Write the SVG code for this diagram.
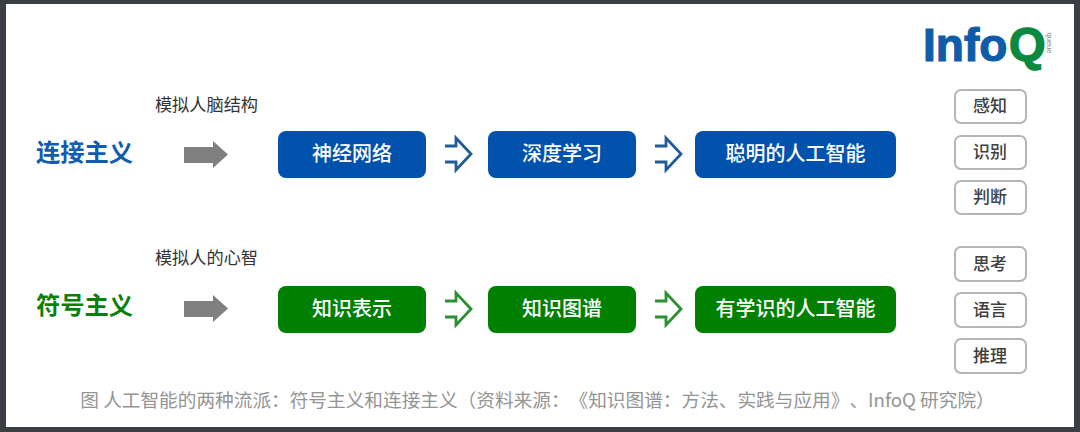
<svg xmlns="http://www.w3.org/2000/svg" width="1080" height="432" viewBox="0 0 1080 432">
<defs>
<style>
text{font-family:"Noto Sans CJK SC","Noto Sans",sans-serif;text-anchor:middle}
.head{font-size:24.300px;font-weight:700}
.sub{font-size:17.200px;fill:#333}
.btxt{font-size:20px;fill:#fff;font-weight:500}
.side{fill:#fff;stroke:#b5b5b5;stroke-width:2}
.stxt{font-size:17px;fill:#404040;font-weight:500}
.gray{fill:#808080}
.hollow{fill:none;stroke-width:2.800;stroke-linejoin:miter}
.logo{text-anchor:start;font-family:"Liberation Sans",sans-serif;font-weight:700}
</style>
<path id="solid" d="M184 147H213V141L228 154.500L213 168V163H184Z"/>
<path id="open" d="M445 146H456V138L471 154L456 170V162H445"/>
</defs>
<rect width="1080" height="432" fill="#3b3e42"/>
<rect x="6" y="4" width="1068" height="423" fill="#fff"/>
<g id="logo">
<text class="logo" x="923" y="61" font-size="46" fill="#0f5ca8" stroke="#0f5ca8" stroke-width="1.200">Info</text>
<text class="logo" x="1009" y="60" font-size="47" fill="#0a8a40" stroke="#0a8a40" stroke-width="1.500">Q</text>
<text transform="translate(1047 43) rotate(90)" style="font-family:'Liberation Sans',sans-serif;font-size:7.500px" fill="#888">queue</text>
</g>
<g id="connectors">
<use href="#solid" class="gray"/>
<use href="#solid" class="gray" y="154"/>
<use href="#open" class="hollow" stroke="#1f5c99"/>
<use href="#open" class="hollow" stroke="#1f5c99" x="210"/>
<use href="#open" class="hollow" stroke="#2a9030" y="155"/>
<use href="#open" class="hollow" stroke="#2a9030" x="210" y="155"/>
</g>
<g id="head-connect"><text class="head" x="84.500" y="161" fill="#0f5cb0">连接主义</text></g>
<g id="head-symbol"><text class="head" x="84.500" y="314" fill="#0a7f0a">符号主义</text></g>
<g id="sub-brain"><text class="sub" x="206.500" y="111">模拟人脑结构</text></g>
<g id="sub-mind"><text class="sub" x="206.500" y="264">模拟人的心智</text></g>
<g id="n1"><rect x="278" y="131" width="148" height="47" rx="8" fill="#0052ac"/><text class="btxt" x="352" y="161">神经网络</text></g>
<g id="n2"><rect x="488" y="131" width="148" height="47" rx="8" fill="#0052ac"/><text class="btxt" x="562" y="161">深度学习</text></g>
<g id="n3"><rect x="695" y="131" width="201" height="47" rx="8" fill="#0052ac"/><text class="btxt" x="795.500" y="161">聪明的人工智能</text></g>
<g id="n4"><rect x="278" y="286" width="148" height="47" rx="8" fill="#008000"/><text class="btxt" x="352" y="316">知识表示</text></g>
<g id="n5"><rect x="488" y="286" width="148" height="47" rx="8" fill="#008000"/><text class="btxt" x="562" y="316">知识图谱</text></g>
<g id="n6"><rect x="695" y="286" width="201" height="47" rx="8" fill="#008000"/><text class="btxt" x="795.500" y="316">有学识的人工智能</text></g>
<g id="s1"><rect class="side" x="955" y="90" width="71" height="33" rx="6"/><text class="stxt" x="990" y="112">感知</text></g>
<g id="s2"><rect class="side" x="955" y="136" width="71" height="33" rx="6"/><text class="stxt" x="990" y="158">识别</text></g>
<g id="s3"><rect class="side" x="955" y="181" width="71" height="33" rx="6"/><text class="stxt" x="990" y="203">判断</text></g>
<g id="s4"><rect class="side" x="955" y="247" width="71" height="34" rx="6"/><text class="stxt" x="990" y="270">思考</text></g>
<g id="s5"><rect class="side" x="955" y="293" width="71" height="34" rx="6"/><text class="stxt" x="990" y="316">语言</text></g>
<g id="s6"><rect class="side" x="955" y="339" width="71" height="34" rx="6"/><text class="stxt" x="990" y="362">推理</text></g>
<g id="caption"><text x="537.500" y="407" style="font-size:18.660px;text-spacing-trim:space-all" fill="#949494">图 人工智能的两种流派：符号主义和连接主义（资料来源：《知识图谱：方法、实践与应用》、InfoQ 研究院）</text></g>
</svg>
